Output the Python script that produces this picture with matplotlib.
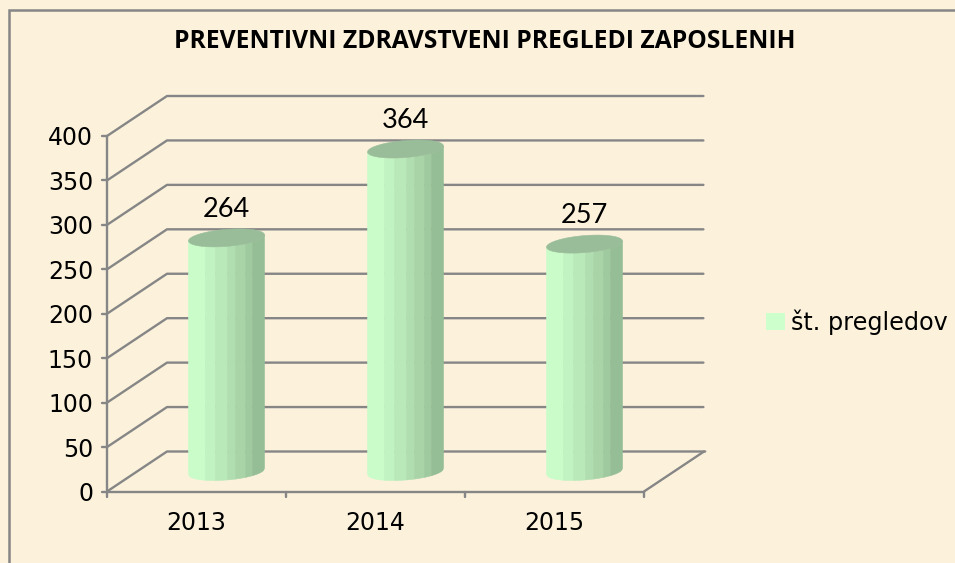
import numpy as np
import matplotlib
matplotlib.use("Agg")
import matplotlib.pyplot as plt
from matplotlib.patches import Rectangle, Polygon

W, H = 955, 563
categories = ["2013", "2014", "2015"]
values = [264, 364, 257]
yticks = [0, 50, 100, 150, 200, 250, 300, 350, 400]
title = "PREVENTIVNI ZDRAVSTVENI PREGLEDI ZAPOSLENIH"
series_name = "št. pregledov"

BG = "#FCF2DC"; GRID = "#868686"; LIGHT = "#CCFFCC"; TOPC = "#99BD99"
bands = ["#C9FCC9", "#C1F2C1", "#B9E9B9", "#B0DEB0", "#A8D4A8", "#9FC99F", "#96BE96"]

fig = plt.figure(figsize=(W/100, H/100), dpi=100, facecolor=BG)
fig.add_artist(Rectangle((8.5/W, -0.01), 1, 1.01-9.5/H, transform=fig.transFigure,
                         fill=False, ec=GRID, lw=1.8))

L, R, T, B = 107, 644, 136, 491.5
ax = fig.add_axes([L/W, 1-B/H, (R-L)/W, (B-T)/H])
ax.set_xlim(0, 3); ax.set_ylim(0, 400); ax.axis("off"); ax.patch.set_alpha(0)
px = 3/(R-L); py = 400/(B-T)
DX, DY = 60*px, 40*py           # depth offset in data units
lk = dict(color=GRID, lw=1.7, clip_on=False, solid_capstyle="round")

for v in yticks:
    ax.plot([0, DX, 3+DX*(0.99 if v else 1.02)], [v, v+DY, v+DY], zorder=1, **lk)
    ax.plot([-5*px, 0], [v, v], zorder=1, **lk)
    ax.text(-14*px, v, str(v), ha="right", va="center_baseline", fontsize=17, family="DejaVu Sans",
            color="black", clip_on=False)
ax.plot([0, 0], [0, 400], zorder=2, **lk)
ax.plot([0, 3], [0, 0], zorder=2, **lk)
ax.plot([3, 3+DX], [0, DY], zorder=2, **lk)
for i in range(4):
    ax.plot([i, i], [0, -5*py], zorder=2, **lk)

a = 38*px; tilt = 3*py; b = 8.5*py
edges = np.array([0, 17, 27, 39, 47, 57, 64, 76]) / 76
def rim(cx, cy, t):
    return cx + a*np.cos(t), cy + tilt*np.cos(t) + b*np.sin(t)

for i, (cat, v) in enumerate(zip(categories, values)):
    cx = i + 0.5 + DX/2
    y0 = DY/2
    y1 = v + y0 - 1*py
    for k, c in enumerate(bands):
        xs = cx - a + 2*a*np.array([edges[k], edges[k+1]])
        tt = np.arccos(np.clip((np.linspace(xs[0], xs[1], 12)-cx)/a, -1, 1))
        xa, ya = rim(cx, y0, -tt)
        xb, yb = rim(cx, y1, -tt)
        ax.add_patch(Polygon(np.r_[np.c_[xa, ya], np.c_[xb, yb][::-1]], fc=c, ec=c, lw=.4,
                             zorder=3, clip_on=False))
    t = np.linspace(0, 2*np.pi, 120)
    xt, yt = rim(cx, y1, t)
    ax.add_patch(Polygon(np.c_[xt, yt], fc=TOPC, ec=TOPC, lw=.4, zorder=4, clip_on=False))
    ax.text(cx, v + DY/2 + 15*py, str(v), ha="center", va="bottom", fontsize=19.5, family="Lato",
            color="black", clip_on=False, zorder=5)
    ax.text(i + 0.5, -38.5*py, cat, ha="center", va="baseline", fontsize=17, family="DejaVu Sans",
            color="black", clip_on=False)

fig.text(485/W, 1-42/H, title, ha="center", va="center", fontsize=17.7, fontweight="bold",
         family="Open Sans", color="black")
fig.add_artist(Rectangle((766/W, 1-330/H), 19/W, 17/H, transform=fig.transFigure, fc=LIGHT, ec="none"))
fig.text(791/W, 1-322/H, series_name, ha="left", va="center", fontsize=17.2, family="DejaVu Sans", color="black")

fig.savefig("out.png", dpi=100, facecolor=fig.get_facecolor())
